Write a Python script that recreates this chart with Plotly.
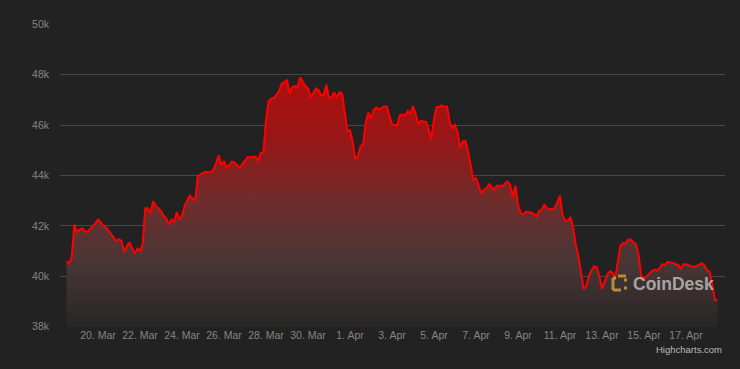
import pandas as pd
import plotly.graph_objects as go

# ---- data (BTC price, USD, 3-hourly) ----
start_time = "2022-03-18 12:00"
step = "3h"
prices = [
    40600, 40500, 40750, 42050, 41750, 41850, 41900, 41800, 41750, 41900,
    42000, 42100, 42250, 42150, 42000, 41950, 41800, 41680, 41500, 41400,
    41470, 41400, 40950, 41200, 41350, 41150, 40900, 41100, 41000, 41270,
    42700, 42700, 42500, 42980, 42800, 42700, 42600, 42400, 42300, 42050,
    42250, 42150, 42550, 42250, 42400, 42800, 43000, 43200, 43100, 43000,
    43980, 44050, 44100, 44150, 44120, 44150, 44220, 44500, 44800, 44400,
    44570, 44300, 44450, 44550, 44520, 44420, 44300, 44450, 44600, 44730,
    44720, 44730, 44750, 44580, 44900, 44920, 46200, 46950, 47050, 47080,
    47200, 47350, 47650, 47700, 47800, 47250, 47500, 47550, 47500, 47900,
    47720, 47550, 47450, 47100, 47260, 47450, 47380, 47180, 47200, 47600,
    47070, 47120, 47300, 47080, 47300, 47250, 46500, 45750, 45800, 45350,
    44650, 44750, 45150, 45250, 46100, 46500, 46250, 46600, 46700, 46610,
    46670, 46740, 46740, 46340, 46020, 46000, 45980, 46400, 46420, 46370,
    46550, 46450, 46750, 46450, 46030, 46170, 46150, 46120, 45800, 45450,
    46250, 46720, 46720, 46780, 46710, 46740, 46100, 45880, 46000, 45700,
    45120, 45350, 45370, 44950, 44400, 43820, 43900, 43600, 43300, 43430,
    43500, 43650, 43560, 43450, 43600, 43600, 43580, 43680, 43760, 43630,
    43150, 43600, 42850, 42500, 42450, 42570, 42550, 42520, 42480, 42360,
    42600, 42650, 42840, 42720, 42650, 42690, 42700, 42950, 43200, 42420,
    42200, 42200, 42350, 41950, 41250, 40800, 40050, 39500, 39600, 40020,
    40230, 40400, 40350, 40000, 39500, 39800, 40050, 40200, 40150, 39900,
    40600, 41220, 41320, 41300, 41470, 41450, 41350, 41260, 40800, 39950,
    39900, 40000, 40130, 40200, 40270, 40220, 40330, 40480, 40450, 40570,
    40550, 40540, 40480, 40460, 40300, 40480, 40480, 40440, 40380, 40360,
    40410, 40460, 40520, 40430, 40250, 40180, 39700, 39050, 39050,
]
times = pd.date_range(start_time, periods=len(prices), freq=step)

y_ticks = [38000, 40000, 42000, 44000, 46000, 48000, 50000]
y_tick_labels = ["38k", "40k", "42k", "44k", "46k", "48k", "50k"]
x_ticks = pd.date_range("2022-03-20", "2022-04-17", freq="2D")

BG = "#222222"
GRID = "#474747"
TICK = "#858585"
FONT = "Liberation Sans, Arial, sans-serif"

fig = go.Figure()
fig.add_trace(go.Scatter(
    x=times, y=prices, mode="lines",
    line=dict(color="#ff0000", width=2),
    fill="tozeroy",
    fillgradient=dict(
        type="vertical", start=38000, stop=48000,
        colorscale=[[0.0, "rgb(40,38,38)"], [0.25, "rgb(72,54,54)"],
                    [0.5, "rgb(112,44,44)"], [0.75, "rgb(152,22,22)"],
                    [1.0, "rgb(176,14,14)"]],
    ),
    hoverinfo="x+y", showlegend=False,
))

# pixel -> paper helpers for decorations
L, R, T, B = 60, 15, 24, 42
W, H = 740, 369
def px(x):
    return (x - L) / (W - L - R)
def py(y):
    return (H - B - y) / (H - T - B)

gold = "rgba(200,160,60,0.85)"
icon = [
    (613, 278, 613, 290), (613, 278, 616, 278), (613, 290, 621, 290),
    (618, 276, 626, 276),
]
for x0, y0, x1, y1 in icon:
    fig.add_shape(type="line", xref="paper", yref="paper",
                  x0=px(x0), y0=py(y0), x1=px(x1), y1=py(y1),
                  line=dict(color=gold, width=3))
for yy in (280, 288):
    fig.add_shape(type="rect", xref="paper", yref="paper",
                  x0=px(624), x1=px(627), y0=py(yy - 1.5), y1=py(yy + 1.5),
                  fillcolor=gold, line=dict(width=0))

fig.add_annotation(text="<b>CoinDesk</b>", xref="paper", yref="paper",
                   x=px(631), y=py(284), xanchor="left", yanchor="middle",
                   showarrow=False,
                   font=dict(family=FONT, size=17.5, color="rgba(230,230,230,0.65)"))
fig.add_annotation(text="Highcharts.com", xref="paper", yref="paper",
                   x=px(724), y=py(349), xanchor="right", yanchor="middle",
                   showarrow=False,
                   font=dict(family=FONT, size=9.5, color="#bbbbbb"))

fig.update_layout(
    width=W, height=H,
    margin=dict(l=L, r=R, t=T, b=B),
    paper_bgcolor=BG, plot_bgcolor=BG,
    font=dict(family=FONT, color=TICK, size=11),
    xaxis=dict(
        range=["2022-03-18 04:34", "2022-04-18 20:34"],
        tickvals=x_ticks, tickformat="%-d. %b",
        showgrid=False, zeroline=False, showline=False,
        ticks="", tickfont=dict(size=10.5, color=TICK),
    ),
    yaxis=dict(
        range=[37990, 50010],
        tickvals=y_ticks, ticktext=y_tick_labels,
        showgrid=True, gridcolor=GRID, gridwidth=1,
        zeroline=False, showline=False, ticks="",
        ticklabelstandoff=10,
        tickfont=dict(size=10.5, color=TICK),
    ),
)

fig.write_html("out.html")
